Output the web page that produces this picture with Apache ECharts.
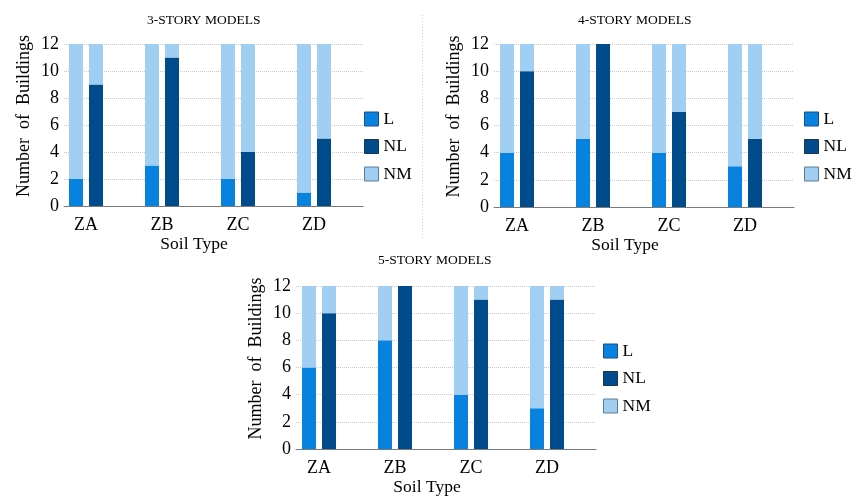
<!DOCTYPE html>
<html>
<head>
<meta charset="utf-8">
<script src="https://cdn.jsdelivr.net/npm/echarts@6/dist/echarts.min.js"></script>
<style>
  html, body { margin: 0; padding: 0; background: #fff; }
  #chart { width: 856px; height: 497px; }
</style>
</head>
<body>
<div id="chart"></div>
<script>
// Soil type categories shared by all three panels
const categories = ['ZA', 'ZB', 'ZC', 'ZD'];
const panelTitles = ['3-STORY MODELS', '4-STORY MODELS', '5-STORY MODELS'];

// Building counts per soil type (12 buildings per group)
const story3L   = [2, 3, 2, 1];
const story3NMa = [10, 9, 10, 11];
const story3NL  = [9, 11, 4, 5];
const story3NMb = [3, 1, 8, 7];

const story4L   = [4, 5, 4, 3];
const story4NMa = [8, 7, 8, 9];
const story4NL  = [10, 12, 7, 5];
const story4NMb = [2, 0, 5, 7];

const story5L   = [6, 8, 4, 3];
const story5NMa = [6, 4, 8, 9];
const story5NL  = [10, 12, 11, 11];
const story5NMb = [2, 0, 1, 1];

const yMax = 12;
const yStep = 2;

const panelData = [
  { L: story3L, NMa: story3NMa, NL: story3NL, NMb: story3NMb },
  { L: story4L, NMa: story4NMa, NL: story4NL, NMb: story4NMb },
  { L: story5L, NMa: story5NMa, NL: story5NL, NMb: story5NMb }
];

const COLORS = { L: '#0882df', NL: '#004b8b', NM: '#a1cff3' };
const FONT = "'Liberation Serif', 'Times New Roman', serif";

// Layout of each panel: frame (gridlines / y axis), bar band area, legend, title
const layout = [
  { frameLeft: 64,  frameWidth: 299, barLeft: 48,  top: 44,  height: 162, legend: [364, 110], title: [147, 13] },
  { frameLeft: 494, frameWidth: 300, barLeft: 479, top: 44,  height: 163, legend: [804, 110], title: [578, 13] },
  { frameLeft: 296, frameWidth: 300, barLeft: 281, top: 286, height: 163, legend: [603, 342], title: [378, 253] }
];

const grid = [], xAxis = [], yAxis = [], series = [], legend = [], title = [];

layout.forEach((p, i) => {
  // frame grid: dotted gridlines, y labels and baseline
  grid.push({ left: p.frameLeft, top: p.top, width: p.frameWidth, height: p.height });
  // bar grid: four category bands
  grid.push({ left: p.barLeft, top: p.top, width: 304, height: p.height });

  xAxis.push({
    gridIndex: 2 * i, type: 'value', min: 0, max: 1,
    axisLine: { show: true, onZero: false, lineStyle: { color: '#7a7a7a', width: 1 } },
    axisTick: { show: false }, axisLabel: { show: false }, splitLine: { show: false }
  });
  xAxis.push({
    gridIndex: 2 * i + 1, type: 'category', data: categories,
    axisLine: { show: false }, axisTick: { show: false },
    axisLabel: { color: '#000', fontFamily: FONT, fontSize: 18, margin: 10 },
    name: 'Soil Type', nameLocation: 'middle', nameGap: 29,
    nameTextStyle: { color: '#000', fontFamily: FONT, fontSize: 17.5, padding: [0, 12, 0, 0] }
  });

  yAxis.push({
    gridIndex: 2 * i, type: 'value', min: 0, max: yMax, interval: yStep,
    axisLine: { show: false }, axisTick: { show: false },
    axisLabel: { color: '#000', fontFamily: FONT, fontSize: 18, margin: 5 },
    splitLine: { show: true, lineStyle: { color: '#c9c9c9', type: 'dotted', width: 1 } },
    name: 'Number  of  Buildings', nameLocation: 'middle', nameGap: 31,
    nameTextStyle: { color: '#000', fontFamily: FONT, fontSize: 18, padding: [0, 0, 0, 18] }
  });
  yAxis.push({
    gridIndex: 2 * i + 1, type: 'value', min: 0, max: yMax, interval: yStep, show: false
  });

  const d = panelData[i];
  const common = { type: 'bar', xAxisIndex: 2 * i + 1, yAxisIndex: 2 * i + 1, barWidth: 14, barGap: '43%' };
  series.push(Object.assign({ name: 'L',  stack: 'a' + i, data: d.L,   itemStyle: { color: COLORS.L } }, common));
  series.push(Object.assign({ name: 'NM', stack: 'a' + i, data: d.NMa, itemStyle: { color: COLORS.NM } }, common));
  series.push(Object.assign({ name: 'NL', stack: 'b' + i, data: d.NL,  itemStyle: { color: COLORS.NL } }, common));
  series.push(Object.assign({ name: 'NM', stack: 'b' + i, data: d.NMb, itemStyle: { color: COLORS.NM } }, common));

  legend.push({
    orient: 'vertical', left: p.legend[0], top: p.legend[1], padding: 0,
    itemWidth: 14, itemHeight: 14, itemGap: 9.5, icon: 'rect',
    selectedMode: false,
    textStyle: { color: '#000', fontFamily: FONT, fontSize: 17.5 },
    data: [
      { name: 'L',  itemStyle: { borderColor: '#1d4f80', borderWidth: 1 } },
      { name: 'NL', itemStyle: { borderColor: '#1b3553', borderWidth: 1 } },
      { name: 'NM', itemStyle: { borderColor: '#5f7c96', borderWidth: 1 } }
    ]
  });

  title.push({
    text: panelTitles[i], left: p.title[0], top: p.title[1], padding: 0,
    textStyle: { color: '#000', fontFamily: FONT, fontSize: 13.5, fontWeight: 'normal' }
  });
});

const chart = echarts.init(document.getElementById('chart'), null, { renderer: 'canvas' });
chart.setOption({
  animation: false,
  backgroundColor: '#fff',
  title, grid, xAxis, yAxis, series, legend,
  graphic: [{
    type: 'line', shape: { x1: 422.5, y1: 15, x2: 422.5, y2: 240 },
    style: { stroke: '#cfcfcf', lineWidth: 1, lineDash: [1, 2] }, silent: true
  }]
});
</script>
</body>
</html>
